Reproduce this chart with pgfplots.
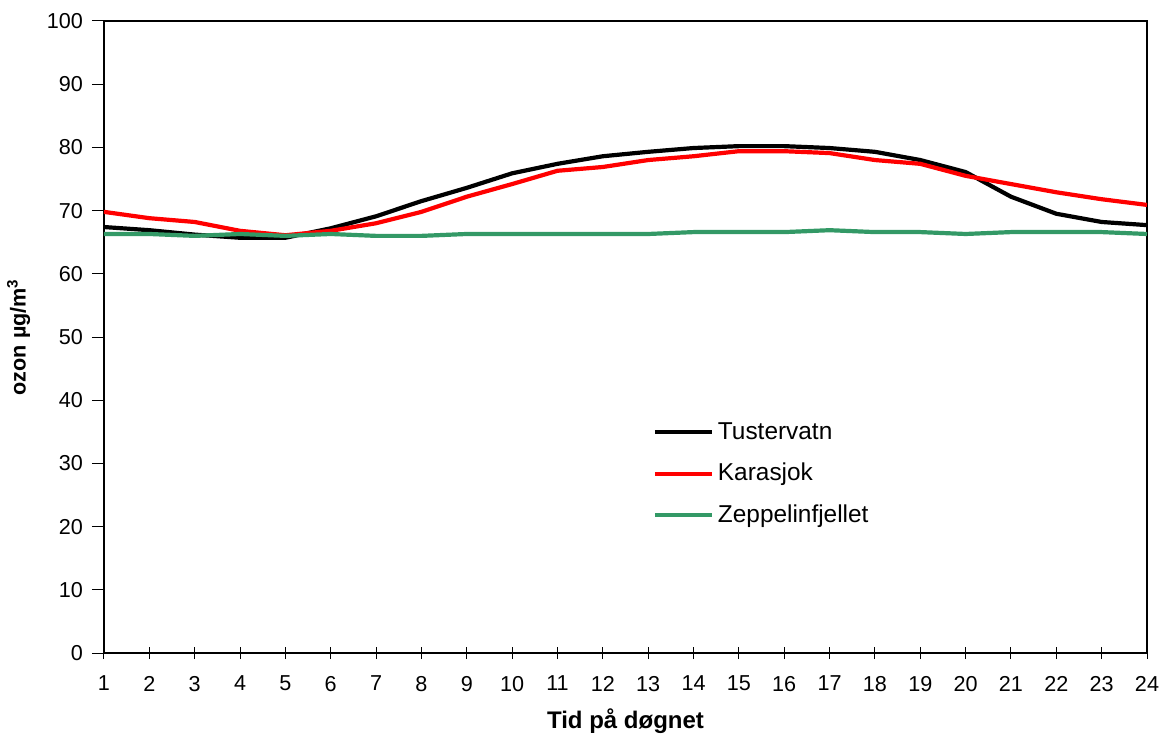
\documentclass[border=0pt]{standalone}
\usepackage{fontspec}
\setmainfont{Liberation Sans}
\usepackage{pgfplots}
\pgfplotsset{compat=1.18}
\definecolor{zepgreen}{RGB}{51,153,102}

\begin{document}
\begin{tikzpicture}
\begin{axis}[
  scale only axis,
  width=521.5pt, height=316pt,
  xmin=1, xmax=24, ymin=0, ymax=100,
  xtick={1,...,24}, ytick={0,10,...,100},
  xtick pos=bottom, ytick pos=left,
  axis line style={black, line width=0.6pt},
  tick style={black, line width=0.5pt},
  xtick align=center, ytick align=outside,
  major tick length=6pt,
  /pgf/number format/assume math mode=true,
  ticklabel style={font=\fontsize{10.8}{12}\selectfont},
  yticklabel style={xshift=-1pt},
  xticklabel style={yshift=-5pt},
  xlabel={\textbf{Tid på døgnet}},
  ylabel={\textbf{ozon µg/m\textsuperscript{3}}},
  xlabel style={font=\fontsize{12}{14}\selectfont, yshift=-2pt},
  ylabel style={font=\fontsize{10.8}{12}\selectfont, yshift=1.5pt},
  legend style={draw=none, fill=none, at={(0.52,0.378)}, anchor=north west,
    font=\fontsize{12.2}{14}\selectfont, row sep=6.5pt},
  legend cell align=left,
  legend image code/.code={\draw[#1] (0pt,0pt) -- (28.5pt,0pt);},
]
\addplot[black, line width=2.1pt] coordinates {
(1,67.4) (2,66.9) (3,66.2) (4,65.7) (5,65.7) (6,67.2) (7,69.1) (8,71.5)
(9,73.6) (10,75.9) (11,77.4) (12,78.6) (13,79.3) (14,79.9) (15,80.2) (16,80.2)
(17,79.9) (18,79.3) (19,78.0) (20,76.1) (21,72.2) (22,69.5) (23,68.2) (24,67.7)};
\addlegendentry{Tustervatn}
\addplot[red, line width=2.1pt] coordinates {
(1,69.8) (2,68.8) (3,68.2) (4,66.8) (5,66.1) (6,66.8) (7,68.0) (8,69.8)
(9,72.2) (10,74.2) (11,76.3) (12,76.9) (13,78.0) (14,78.6) (15,79.4) (16,79.4)
(17,79.1) (18,78.0) (19,77.4) (20,75.5) (21,74.2) (22,72.9) (23,71.8) (24,70.9)};
\addlegendentry{Karasjok}
\addplot[zepgreen, line width=2.1pt] coordinates {
(1,66.3) (2,66.3) (3,66.0) (4,66.3) (5,66.0) (6,66.3) (7,66.0) (8,66.0)
(9,66.3) (10,66.3) (11,66.3) (12,66.3) (13,66.3) (14,66.6) (15,66.6) (16,66.6)
(17,66.9) (18,66.6) (19,66.6) (20,66.3) (21,66.6) (22,66.6) (23,66.6) (24,66.3)};
\addlegendentry{Zeppelinfjellet}
\end{axis}
\pgfresetboundingbox
\path[use as bounding box] (current axis.south west) ++(-52pt,-41pt) rectangle ([shift={(9.5pt,10.5pt)}]current axis.north east);
\end{tikzpicture}
\end{document}
